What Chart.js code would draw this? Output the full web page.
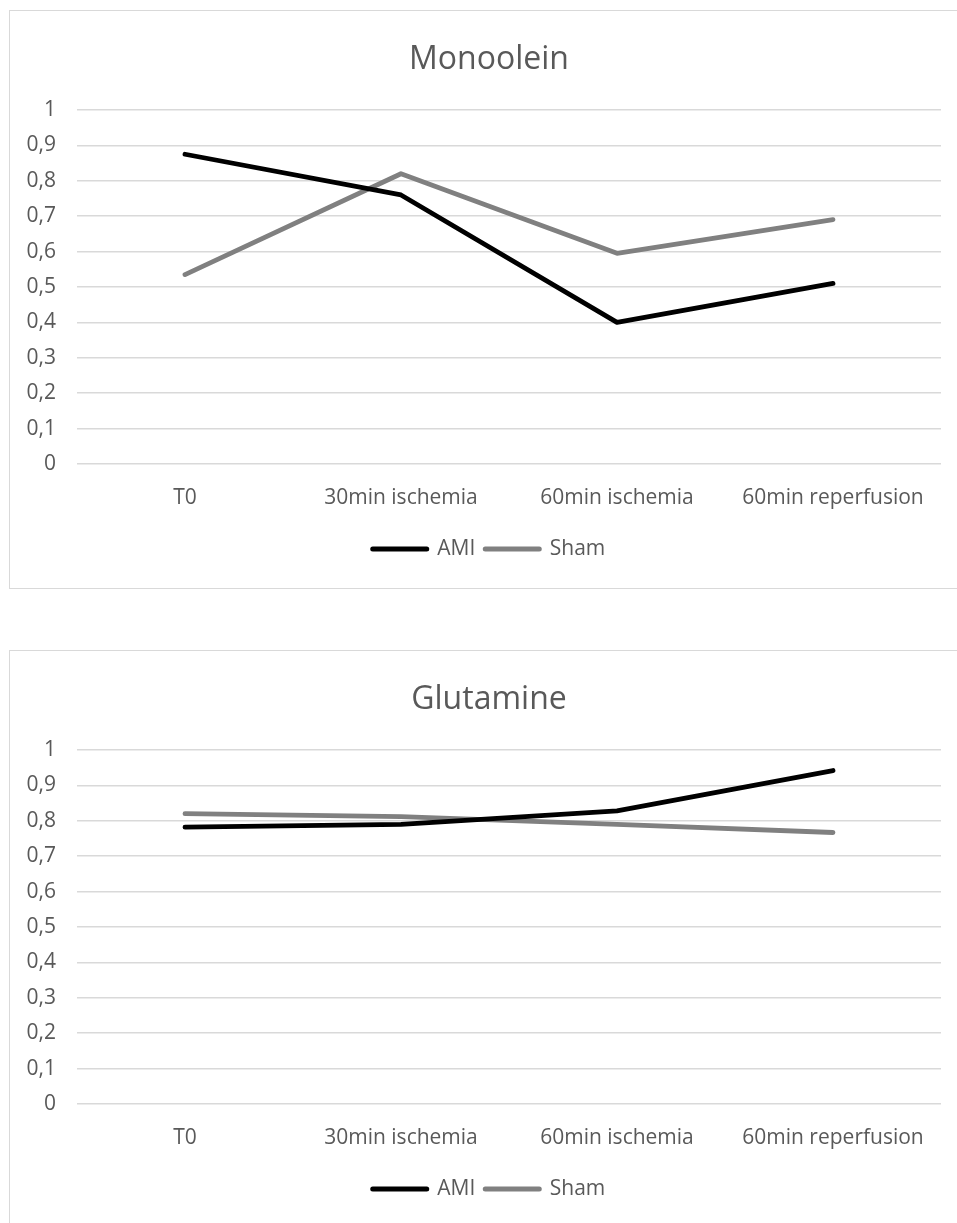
<!DOCTYPE html>
<html>
<head>
<meta charset="utf-8">
<script src="https://cdn.jsdelivr.net/npm/chart.js@4/dist/chart.umd.min.js"></script>
<style>
  html, body { margin: 0; padding: 0; background: #fff; overflow: hidden; width: 957px; height: 1223px; }
  .frame { position: absolute; left: 9px; width: 990px; height: 579px; border: 1px solid #d9d9d9; box-sizing: border-box; }
  canvas { position: absolute; left: 0; }
</style>
</head>
<body>
<div class="frame" style="top:10px"></div>
<div class="frame" style="top:650px"></div>
<canvas id="c1" width="978" height="578" style="top:10px"></canvas>
<canvas id="c2" width="978" height="578" style="top:650px"></canvas>
<script>
const categories = ['T0', '30min ischemia', '60min ischemia', '60min reperfusion'];
const seriesNames = ['AMI', 'Sham'];
const chartTitles = ['Monoolein', 'Glutamine'];
const monooleinAMI = [0.875, 0.76, 0.40, 0.51];
const monooleinSham = [0.535, 0.82, 0.595, 0.69];
const glutamineAMI = [0.782, 0.79, 0.828, 0.942];
const glutamineSham = [0.82, 0.812, 0.79, 0.767];
const yTickLabels = ['0', '0,1', '0,2', '0,3', '0,4', '0,5', '0,6', '0,7', '0,8', '0,9', '1'];

const TEXT = '#595959';
const GRID = '#d9d9d9';
const FONT = "'Open Sans', 'DejaVu Sans', sans-serif";
const colors = ['#000000', '#808080'];

function makeChart(id, title, amiData, shamData) {
  return new Chart(document.getElementById(id), {
    type: 'line',
    data: {
      labels: categories,
      datasets: [
        { label: seriesNames[0], data: amiData, borderColor: colors[0], backgroundColor: colors[0] },
        { label: seriesNames[1], data: shamData, borderColor: colors[1], backgroundColor: colors[1] }
      ]
    },
    options: {
      responsive: false,
      animation: false,
      events: [],
      elements: {
        line: { borderWidth: 4.8, tension: 0, borderJoinStyle: 'round', borderCapStyle: 'round', fill: false },
        point: { radius: 0, hoverRadius: 0 }
      },
      layout: { padding: { left: 0, right: 0, top: 0, bottom: 18.5 } },
      plugins: {
        tooltip: { enabled: false },
        title: {
          display: true,
          text: title,
          color: TEXT,
          font: { family: FONT, size: 32, weight: 'normal', lineHeight: 1.2 },
          padding: { top: 30.8, bottom: 30.8 }
        },
        legend: {
          display: true,
          position: 'bottom',
          labels: {
            color: TEXT,
            font: { family: FONT, size: 21, lineHeight: 1.2 },
            usePointStyle: true,
            pointStyleWidth: 54,
            padding: 10,
            generateLabels: (chart) => chart.data.datasets.map((ds, i) => ({
              text: ds.label,
              datasetIndex: i,
              pointStyle: 'line',
              strokeStyle: ds.borderColor,
              fillStyle: ds.borderColor,
              lineWidth: 5,
              lineCap: 'round',
              fontColor: TEXT,
              hidden: false
            }))
          }
        }
      },
      scales: {
        x: {
          offset: true,
          grid: { display: false, drawTicks: false },
          border: { display: false },
          ticks: { color: TEXT, font: { family: FONT, size: 21, lineHeight: 1.2 }, padding: 21.4, maxRotation: 0, autoSkip: false },
          afterFit: (s) => { s.height = 64.5; }
        },
        y: {
          min: 0,
          max: 1,
          grid: { color: GRID, lineWidth: 1.5, drawTicks: false },
          border: { display: false },
          ticks: {
            stepSize: 0.1,
            color: TEXT,
            font: { family: FONT, size: 21, lineHeight: 1.2 },
            padding: 21,
            callback: (v, i) => yTickLabels[i]
          },
          afterFit: (s) => { s.width = 77; }
        },
        yRight: {
          position: 'right',
          min: 0,
          max: 1,
          grid: { display: false, drawTicks: false },
          border: { display: false },
          ticks: { display: false },
          afterFit: (s) => { s.width = 37; }
        }
      }
    }
  });
}

makeChart('c1', chartTitles[0], monooleinAMI, monooleinSham);
makeChart('c2', chartTitles[1], glutamineAMI, glutamineSham);
</script>
</body>
</html>
